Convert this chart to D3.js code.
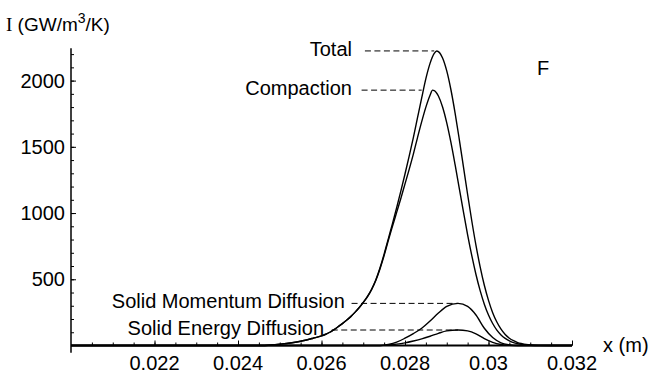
<!DOCTYPE html>
<html>
<head>
<meta charset="utf-8">
<script src="https://cdn.jsdelivr.net/npm/d3@7"></script>
<style>
  body { margin: 0; background: #fff; }
  text { font-family: "Liberation Sans", Arial, sans-serif; fill: #000; }
</style>
</head>
<body>
<div id="chart"></div>
<script>
// curve readings [x (m), I (GW/m3/K)]
const total = [
  [0.0200, 0], [0.0245, 0], [0.0248, 4], [0.0250, 10], [0.0255, 32], [0.0258, 55],
  [0.0260, 72], [0.0261, 85], [0.0262, 100], [0.0263, 120], [0.0264, 142],
  [0.0265, 165], [0.0266, 190], [0.0267, 218], [0.0268, 250], [0.0269, 285],
  [0.0270, 325], [0.0271, 370], [0.0272, 425], [0.0273, 495], [0.0274, 585],
  [0.0275, 690], [0.0276, 805], [0.0277, 920], [0.0278, 1040], [0.0279, 1165],
  [0.0280, 1295], [0.0281, 1430], [0.0282, 1570], [0.0283, 1720], [0.0284, 1870],
  [0.0285, 2015], [0.0286, 2130], [0.0287, 2205], [0.02876, 2224],
  [0.0289, 2171], [0.0290, 2073], [0.0291, 1931], [0.0292, 1755], [0.0293, 1557],
  [0.0294, 1349], [0.0295, 1140], [0.0296, 940], [0.0297, 756], [0.0298, 594],
  [0.0299, 455], [0.0300, 341], [0.0301, 248], [0.0302, 177], [0.0303, 123],
  [0.0304, 83], [0.0305, 55], [0.0306, 36], [0.0307, 22], [0.0308, 14],
  [0.0309, 8], [0.0310, 4], [0.0312, 1], [0.0315, 0], [0.0320, 0]
];
const compaction = [
  [0.0200, 0], [0.0245, 0], [0.0248, 4], [0.0250, 10], [0.0255, 32], [0.0258, 55],
  [0.0260, 72], [0.0261, 85], [0.0262, 100], [0.0263, 120], [0.0264, 142],
  [0.0265, 165], [0.0266, 190], [0.0267, 218], [0.0268, 250], [0.0269, 285],
  [0.0270, 325], [0.0271, 368], [0.0272, 422], [0.0273, 490], [0.0274, 578],
  [0.0275, 680], [0.0276, 793], [0.0277, 900], [0.0278, 1005], [0.0279, 1110],
  [0.0280, 1220], [0.0281, 1330], [0.0282, 1445], [0.0283, 1570], [0.0284, 1690],
  [0.0285, 1800], [0.0286, 1890], [0.02866, 1928], [0.0287, 1925],
  [0.0288, 1884], [0.0289, 1801], [0.0290, 1681], [0.0291, 1533], [0.0292, 1365],
  [0.0293, 1187], [0.0294, 1008], [0.0295, 836], [0.0296, 678], [0.0297, 536],
  [0.0298, 414], [0.0299, 312], [0.0300, 230], [0.0301, 166], [0.0302, 116],
  [0.0303, 80], [0.0304, 54], [0.0305, 35], [0.0306, 22], [0.0307, 14],
  [0.0308, 8], [0.0309, 4], [0.0310, 2], [0.0312, 0], [0.0320, 0]
];
const momentum = [
  [0.0200, 0], [0.0274, 0], [0.0276, 8], [0.0278, 25], [0.0280, 55], [0.0282, 90],
  [0.0284, 130], [0.0286, 185], [0.0288, 245], [0.0290, 295], [0.02927, 318],
  [0.0295, 295], [0.0297, 230], [0.0299, 130], [0.0301, 60], [0.0303, 20],
  [0.0305, 5], [0.0307, 0], [0.0320, 0]
];
const energy = [
  [0.0200, 0], [0.0274, 0], [0.0276, 4], [0.0278, 10], [0.0280, 20], [0.0282, 34],
  [0.0284, 50], [0.0286, 70], [0.0288, 92], [0.0290, 110], [0.02927, 117],
  [0.0295, 110], [0.0297, 88], [0.0299, 52], [0.0301, 24], [0.0303, 8],
  [0.0305, 2], [0.0307, 0], [0.0320, 0]
];
const series = [total, compaction, momentum, energy];

// annotations: label, level it points at, label end x, dash start x, dash end x
const labelNames = ["Total", "Compaction", "Solid Momentum Diffusion", "Solid Energy Diffusion"];
const labelLevels = [2224, 1928, 318, 117];
const labelEndX = [0.02673, 0.02673, 0.02656, 0.02606];
const dashStartX = [0.02704, 0.02696, 0.02672, 0.026245];
const dashEndX = [0.02870, 0.02840, 0.02927, 0.02927];

const xTicks = [0.022, 0.024, 0.026, 0.028, 0.030, 0.032];
const xTickLabels = ["0.022", "0.024", "0.026", "0.028", "0.03", "0.032"];
const yTicks = [500, 1000, 1500, 2000];

const width = 650, height = 373;

const svg = d3.select("#chart").append("svg")
  .attr("width", width)
  .attr("height", height);

const x = d3.scaleLinear().domain([0.020, 0.032]).range([71, 572]);
const y = d3.scaleLinear().domain([0, 2000]).range([345.5, 80.6]);

// axes, Mathematica style: ticks point inward
svg.append("g")
  .attr("transform", `translate(0,${y(0)})`)
  .call(d3.axisBottom(x).tickValues(d3.range(0.0205, 0.0321, 0.0005)).tickSize(-3).tickFormat(""))
  .select(".domain").remove();

svg.append("g")
  .attr("transform", `translate(0,${y(0)})`)
  .call(d3.axisBottom(x).tickValues(xTicks).tickSize(-5).tickFormat(""))
  .select(".domain").remove();

svg.append("line")
  .attr("x1", x(0.020)).attr("x2", x(0.032))
  .attr("y1", y(0)).attr("y2", y(0))
  .attr("stroke", "#000").attr("stroke-width", 1.8);

svg.append("g").selectAll("text")
  .data(xTicks)
  .enter()
  .append("text")
  .attr("x", (d) => x(d))
  .attr("y", y(0) + 24.5)
  .attr("text-anchor", "middle")
  .style("font-size", "20px")
  .text((d, i) => xTickLabels[i]);

svg.append("g")
  .attr("transform", `translate(${x(0.020)},0)`)
  .call(d3.axisLeft(y).tickValues(d3.range(100, 2201, 100)).tickSize(-3).tickFormat(""))
  .select(".domain").remove();

svg.append("g")
  .attr("transform", `translate(${x(0.020)},0)`)
  .call(d3.axisLeft(y).tickValues(yTicks).tickSize(-5).tickFormat(""))
  .select(".domain").remove();

svg.append("line")
  .attr("x1", x(0.020)).attr("x2", x(0.020))
  .attr("y1", y(-55)).attr("y2", y(2245))
  .attr("stroke", "#000").attr("stroke-width", 1.5);

svg.append("g").selectAll("text")
  .data(yTicks)
  .enter()
  .append("text")
  .attr("x", x(0.020) - 6)
  .attr("y", (d) => y(d) + 7)
  .attr("text-anchor", "end")
  .style("font-size", "20px")
  .text((d) => d);

svg.selectAll(".tick line").attr("stroke", "#000").attr("stroke-width", 1);

// axis titles
const yTitle = svg.append("text")
  .attr("x", 6)
  .attr("y", 31)
  .style("font-size", "19px");
yTitle.append("tspan").style("font-family", "'Liberation Serif', serif").text("I");
yTitle.append("tspan").text(" (GW/m");
yTitle.append("tspan").attr("dy", -8).style("font-size", "14px").text("3");
yTitle.append("tspan").attr("dy", 8).text("/K)");

svg.append("text")
  .attr("x", 603)
  .attr("y", y(0) + 6)
  .style("font-size", "20px")
  .text("x (m)");

svg.append("text")
  .attr("x", 537)
  .attr("y", 75)
  .style("font-size", "20px")
  .text("F");

// curves
const line = d3.line()
  .x((d) => x(d[0]))
  .y((d) => y(d[1]))
  .curve(d3.curveMonotoneX);

svg.append("g").selectAll("path")
  .data(series)
  .enter()
  .append("path")
  .attr("d", line)
  .attr("fill", "none")
  .attr("stroke", "#000")
  .attr("stroke-width", 1.4);

// labels with dashed leaders
svg.append("g").selectAll("line")
  .data(labelNames)
  .enter()
  .append("line")
  .attr("x1", (d, i) => x(dashStartX[i]))
  .attr("x2", (d, i) => x(dashEndX[i]))
  .attr("y1", (d, i) => y(labelLevels[i]))
  .attr("y2", (d, i) => y(labelLevels[i]))
  .attr("stroke", "#000")
  .attr("stroke-width", 1)
  .attr("stroke-dasharray", "6,3.5");

svg.append("g").selectAll("text")
  .data(labelNames)
  .enter()
  .append("text")
  .attr("x", (d, i) => x(labelEndX[i]))
  .attr("y", (d, i) => y(labelLevels[i]) + 5)
  .attr("text-anchor", "end")
  .style("font-size", "20px")
  .text((d) => d);
</script>
</body>
</html>
